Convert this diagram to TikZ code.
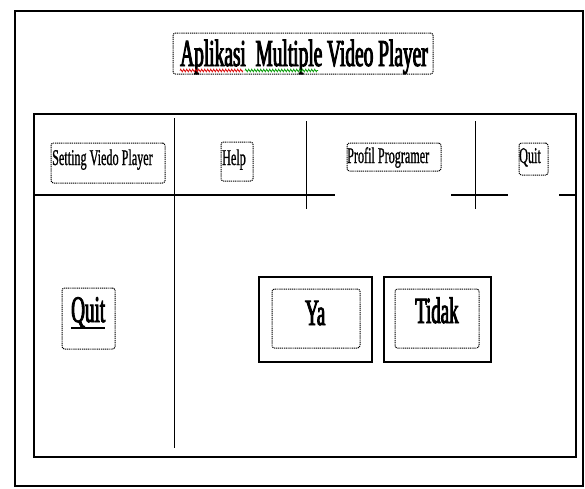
\documentclass[tikz,border=0pt]{standalone}
\usepackage{fontspec}
\setmainfont{Liberation Serif}
\newfontfamily\narrowbold[FakeStretch=0.51,FakeBold=2.4]{Liberation Serif}
\newfontfamily\narrowreg[FakeStretch=0.54,FakeBold=0.8]{Liberation Serif}
\usetikzlibrary{decorations.pathmorphing}

\begin{document}
\begin{tikzpicture}[x=1pt,y=-1pt,
  frame/.style={line width=1.5pt},
  rule/.style={line width=1.2pt},
  divider/.style={line width=0.9pt},
  dotbox/.style={draw, line width=1pt, dash pattern=on 1.1pt off 0.8pt,
    rounded corners=2.5pt, inner sep=0pt},
  button/.style={draw, line width=1.6pt, inner sep=0pt},
  menutext/.style={anchor=base west, inner sep=0pt,
    font=\narrowreg\fontsize{22.5}{24}\selectfont},
  bigtext/.style={anchor=base west, inner sep=0pt,
    font=\narrowbold\fontsize{37}{40}\selectfont},
  squiggle/.style={line width=0.7pt,
    decorate, decoration={zigzag, amplitude=1.4pt, segment length=3pt}}
]
\useasboundingbox (0,0) rectangle (585,488);
\fill[white] (0,0) rectangle (585,488);

% window frame and inner panel
\draw[frame] (15,11) rectangle (583,486);
\draw[frame] (34,114) rectangle (576,457);

% menu dividers
\draw[divider] (174,118) -- (174,448);
\draw[divider] (306,121) -- (306,209);
\draw[divider] (475,121) -- (475,209);
\draw[rule] (34,195) -- (335,195);
\draw[rule] (451,195) -- (508,195);
\draw[rule] (559,195) -- (576,195);

% title
\node[dotbox, minimum width=260pt, minimum height=41pt] (titlebox) at (303,53.5) {};
\node[bigtext, font=\narrowbold\fontsize{38}{40}\selectfont] (title) at (180,66) {Aplikasi\ \ Multiple Video Player};
\draw[squiggle, red!85!black] (180,70.5) -- (243,70.5);
\draw[squiggle, green!60!black] (245,70.5) -- (318,70.5);

% menu entries
\node[dotbox, minimum width=114pt, minimum height=40pt] (setbox) at (108,163) {};
\node[menutext] (settext) at (52,165) {Setting Viedo Player};

\node[dotbox, minimum width=32pt, minimum height=39pt] (helpbox) at (237,161.5) {};
\node[menutext] (helptext) at (222,165) {Help};

\node[dotbox, minimum width=94pt, minimum height=28pt] (profbox) at (394,157) {};
\node[menutext] (proftext) at (347,163) {Profil Programer};

\node[dotbox, minimum width=29pt, minimum height=32pt] (quitmbox) at (533.5,159) {};
\node[menutext] (quitmtext) at (519,163) {Quit};

% quit label in the left panel
\node[dotbox, minimum width=53pt, minimum height=61pt] (quitbox) at (88.5,318.5) {};
\node[bigtext, font=\narrowbold\fontsize{37.5}{40}\selectfont] (quittext) at (71,322) {Quit};
\draw[line width=1.6pt] ([yshift=-6pt]quittext.base west) -- ([yshift=-6pt]quittext.base east);

% confirmation buttons
\node[button, minimum width=113pt, minimum height=85pt] (yabtn) at (315.5,319.5) {};
\node[dotbox, minimum width=88pt, minimum height=59pt] (yabox) at (316,318.5) {};
\node[bigtext] (yatext) at (305,325) {Ya};

\node[button, minimum width=107pt, minimum height=85pt] (tidakbtn) at (437.5,319.5) {};
\node[dotbox, minimum width=84pt, minimum height=59pt] (tidakbox) at (437,318.5) {};
\node[bigtext] (tidaktext) at (415,323) {Tidak};
\end{tikzpicture}
\end{document}
